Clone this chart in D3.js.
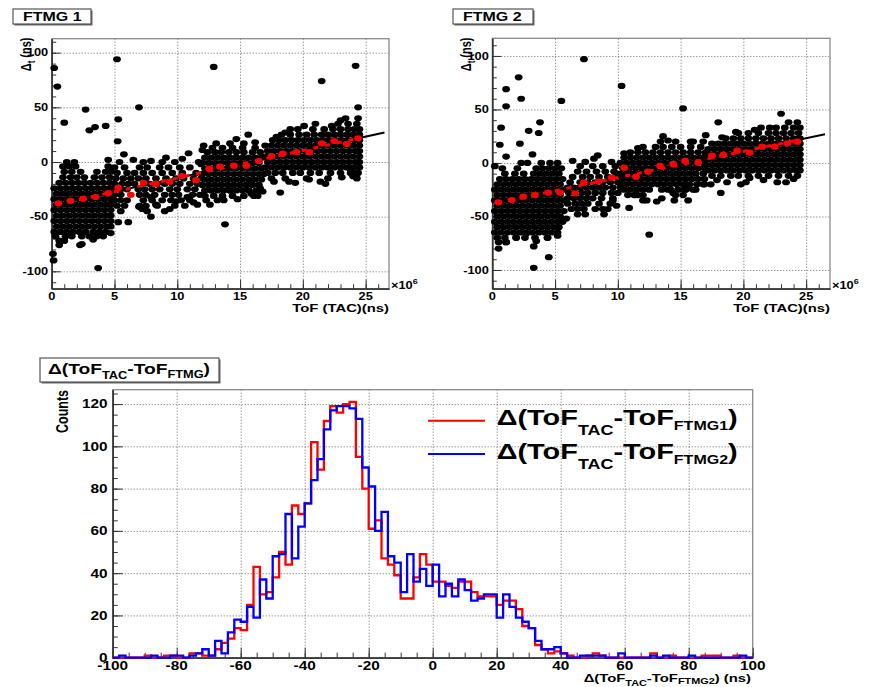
<!DOCTYPE html>
<html><head><meta charset="utf-8">
<script src="https://cdn.jsdelivr.net/npm/d3@7"></script>
<style>
html,body{margin:0;padding:0;background:#fff;}
svg{display:block;font-family:"Liberation Sans",Arial,Helvetica,sans-serif;font-weight:bold;}
</style></head><body>
<svg id="c" width="872" height="687"></svg>
<script>
// ---------------- data ----------------
// Scatter of time difference vs ToF(TAC), one row per Δt level: "Δt|ToF ToF ..."
const ftmg1Rows = `
-72|0.6 1.0
-68|0.3 1.1 1.6 2.4 3.0 3.6 4.1
-64|0.2 0.7 1.2 1.7 2.2 2.7 3.3 3.8 4.3
-59|0.4 0.9 1.4 1.9 2.4 2.9 3.4 3.9 4.4 4.7
-54|0.2 0.7 1.2 1.7 2.2 2.7 3.2 3.7 4.2 4.7
-49|0.4 0.9 1.4 1.9 2.4 2.9 3.4 3.9 4.4 4.7
-44|0.2 0.7 1.2 1.7 2.2 2.7 3.2 3.7 4.2 4.7
-39|0.4 0.9 1.4 1.9 2.4 2.9 3.4 3.9 4.4 4.7
-34|0.2 0.7 1.2 1.7 2.2 2.7 3.2 3.7 4.2 4.7
-29|0.4 0.9 1.4 1.9 2.4 2.9 3.4 3.9 4.4 4.7
-24|0.2 0.7 1.2 1.7 2.2 2.7 3.2 3.7 4.2 4.7
-19|0.6 1.1 1.6 2.1 2.6 3.1 3.6 4.1 4.6
-14|0.9 1.5 2.0 2.6 3.4 4.0 4.6
-9|1.0 1.6 2.3 3.6 4.3 4.7
-4|0.9 1.4 1.9 4.5
0|1.2 1.8
-45|5.5 7.6 9.0
-40|5.2 5.8 7.0 7.5 8.4 9.8 10.6
-35|5.0 5.5 6.0 7.3 8.0 8.8 9.5 10.3 11.0
-30|5.0 5.5 7.0 7.5 8.2 9.0 9.6 10.1 11.2 11.8
-25|5.0 5.5 6.0 6.9 7.4 8.0 8.6 9.4 10.0 10.8 11.4
-20|5.0 5.6 6.1 6.6 7.8 8.4 9.0 9.6 10.2 11.0 11.6
-15|5.1 5.7 6.3 6.9 7.5 8.3 9.1 9.9 10.5 11.3 11.9
-10|5.2 6.0 6.6 7.3 8.0 8.8 9.6 10.4 11.5
-5|5.0 5.8 7.0 7.6 8.6 9.3 10.2 11.0
0|5.4 7.3 8.8 9.8 11.7
-35|12.3 13.2
-31|12.2 12.9 13.6 14.4 15.3 16.1
-26|12.2 12.7 13.2 13.7 14.2 14.7 15.2 15.7 16.3
-21|12.0 12.5 13.0 13.5 14.0 14.5 15.0 15.5 16.0 16.5
-16|12.2 12.7 13.2 13.7 14.2 14.7 15.2 15.7 16.2 16.7
-11|12.0 12.5 13.0 13.5 14.0 14.5 15.0 15.5 16.0 16.5 16.9
-6|12.2 12.7 13.2 13.7 14.2 14.7 15.2 15.7 16.2 16.7
-1|12.0 12.5 13.0 13.5 14.0 14.5 15.0 15.5 16.0 16.5
4|12.2 12.7 13.2 13.7 14.2 14.7 15.2 15.7 16.2 16.7
9|12.4 13.0 13.5 14.1 14.7 15.3 16.0 16.6
13|12.8 13.6 14.4 15.2 16.2
17|14.2 15.3
-15|17.5 18.6 20.3 22.0 24.3
-10|17.2 17.8 18.4 19.2 19.8 20.6 21.3 22.2 23.0 23.8 24.4
-5|17.0 17.5 18.0 18.5 19.0 19.5 20.0 20.5 21.0 21.5 22.0 22.5 23.0 23.5 24.0 24.5
0|17.2 17.7 18.2 18.7 19.2 19.7 20.2 20.7 21.2 21.7 22.2 22.7 23.2 23.7 24.2 24.5
5|17.0 17.5 18.0 18.5 19.0 19.5 20.0 20.5 21.0 21.5 22.0 22.5 23.0 23.5 24.0 24.5
10|17.2 17.7 18.2 18.7 19.2 19.7 20.2 20.7 21.2 21.7 22.2 22.7 23.2 23.7 24.2 24.5
15|17.0 17.5 18.0 18.5 19.0 19.5 20.0 20.5 21.0 21.5 22.0 22.5 23.0 23.5 24.0 24.5
20|17.6 18.1 18.6 19.1 19.6 20.1 20.6 21.1 21.6 22.1 22.6 23.1 23.6 24.1 24.5
25|18.3 19.0 19.7 20.3 20.9 21.5 22.0 22.5 23.0 23.5 24.0 24.5
30|19.6 20.8 21.7 22.4 23.0 23.6 24.1 24.5
35|21.0 22.8 23.6 24.3
40|23.4 24.4
`;
const ftmg1Outliers = [[0.2,86],[0.45,69],[5.2,94],[12.9,87],[24.2,88],[21.5,74],[2.7,48],[6.95,50],[24.4,50],
  [1.0,36],[3.0,29],[3.45,32],[4.3,33],[5.3,39],[5.25,19],[5.75,7],[23,38],[22.3,33],[15.65,25],[14.7,21],
  [12.1,15],[10.9,8],[7.9,1],[4.5,2],[0.1,-84],[0.15,-90],[3.7,-97],[2.4,-75],[2.25,-76],[1.0,-72],[7.9,-50],
  [6.1,-55],[5.3,-55],[13.8,-57],[9.4,-43],[18.2,-28],[17.7,-18],[19.4,-19],[21.4,-18],[21.8,-20],[14.8,-34],
  [11.6,-39],[11.3,-37],[10.8,-32],[7.2,-43],[6.95,-41],[7.9,-32],[13.7,-35],[14.2,-26],[15.8,-20],[16.6,-24],
  [24.3,-10],[23.8,-7],[19.0,30],[20.1,33],[18.6,27],[17.9,23],[16.2,18],[13.1,17],[12.6,-39],[15.9,-29],
  [16.4,-31],[18.9,-18],[20.5,-16],[23.1,-14],[24.0,-13],[9.1,4],[10.4,3],[6.5,2],[8.3,-39],[9.9,-36],
  [4.7,-65],[0.6,-76],[3.3,-71],[11.9,-2],[12.0,11],[16.8,-27]];
const ftmg1Profile = [[0.53,-37.8],[1.5,-35.5],[2.5,-33.5],[3.5,-32],[4.5,-28.5],[5.3,-23.5],[6.3,-30],[7.3,-19],
  [8.3,-19.8],[9.4,-18],[10.35,-12.8],[11.5,-16.5],[12.55,-6.1],[13.4,-4.3],[14.5,-3.4],[15.5,-3.4],[16.5,0.9],
  [17.5,5.5],[18.4,7.6],[19.5,9.1],[20.5,9],[21.5,17.1],[22.5,19.2],[23.5,16.5],[24.4,21.7]];
const ftmg1Fit = [[0.3,-39],[26.5,27]];

const ftmg2Rows = `
-74|1.1
-70|0.4 1.0 1.9 2.6 3.4 4.4
-65|0.2 0.7 1.2 1.7 2.2 2.7 3.2 3.7 4.2 4.7 5.2
-60|0.4 0.9 1.4 1.9 2.4 2.9 3.4 3.9 4.4 4.9 5.3
-55|0.2 0.7 1.2 1.7 2.2 2.7 3.2 3.7 4.2 4.7 5.2 5.6
-50|0.4 0.9 1.4 1.9 2.4 2.9 3.4 3.9 4.4 4.9 5.4
-45|0.2 0.7 1.2 1.7 2.2 2.7 3.2 3.7 4.2 4.7 5.2 5.7
-40|0.4 0.9 1.4 1.9 2.4 2.9 3.4 3.9 4.4 4.9 5.4
-35|0.2 0.7 1.2 1.7 2.2 2.7 3.2 3.7 4.2 4.7 5.2 5.7
-30|0.4 0.9 1.4 1.9 2.4 2.9 3.4 3.9 4.4 4.9 5.4
-25|0.2 0.7 1.2 1.7 2.2 2.7 3.2 3.7 4.2 4.7 5.2 5.7
-20|0.4 0.9 1.4 1.9 2.4 2.9 3.4 3.9 4.4 4.9 5.4
-15|0.6 1.1 1.6 2.1 2.6 3.1 3.6 4.1 4.6 5.1 5.6
-10|1.0 1.8 2.5 3.3 3.8 4.3 4.8 5.3
-5|0.8 2.0 3.5 4.0 4.5 5.0 5.5
0|2.3 2.8 3.9 4.6 5.2
-48|6.8 7.4 8.9
-43|6.3 6.8 7.3 8.2
-38|6.0 6.6 7.1 7.6 8.5 9.4
-33|6.0 6.5 7.0 7.5 8.0 8.7 9.6
-28|6.1 6.6 7.1 7.6 8.2 8.8 9.5 10.0
-23|6.0 6.5 7.0 7.5 8.0 8.5 9.0 9.6 10.2
-18|6.2 7.0 7.6 8.2 8.8 9.4 10.0
-13|6.4 7.2 7.8 8.5 9.2 9.8 10.4
-8|6.8 7.5 8.3 9.0 9.7
-3|7.0 8.0 8.8 9.8
1|7.4 9.5
-35|12.0 14.5 15.6
-30|10.8 11.4 12.0 14.6 15.2
-25|10.5 11.0 11.5 12.0 12.5 13.5 14.2 14.8 15.4 16.0
-20|10.2 10.7 11.2 11.7 12.2 12.7 13.2 13.7 14.2 14.7 15.2 15.7 16.3 16.8
-15|10.4 10.9 11.4 11.9 12.4 12.9 13.4 13.9 14.4 14.9 15.4 15.9 16.4 16.9
-10|10.2 10.7 11.2 11.7 12.2 12.7 13.2 13.7 14.2 14.7 15.2 15.7 16.2 16.8
-5|10.4 10.9 11.4 11.9 12.4 12.9 13.4 13.9 14.4 14.9 15.4 15.9 16.4 16.9
0|10.2 10.7 11.2 11.7 12.2 12.7 13.2 13.7 14.2 14.7 15.2 15.7 16.2 16.8
5|10.5 11.0 11.5 12.0 12.5 13.0 13.5 14.0 14.5 15.0 15.5 16.0 16.5 17.0
10|11.0 11.6 12.2 12.8 13.4 14.0 14.6 15.2 15.8 16.4 17.0
15|12.0 13.0 13.6 14.3 15.0 15.8 16.6
20|13.4 14.6 15.8 16.8
-18|18.7 20.2
-12|17.5 18.2 19.0 19.6 20.4 21.2 22.0 22.8 23.6 24.3
-7|17.2 17.7 18.2 18.7 19.2 19.7 20.2 20.7 21.2 21.7 22.2 22.7 23.2 23.7 24.2 24.5
-2|17.0 17.5 18.0 18.5 19.0 19.5 20.0 20.5 21.0 21.5 22.0 22.5 23.0 23.5 24.0 24.5
3|17.2 17.7 18.2 18.7 19.2 19.7 20.2 20.7 21.2 21.7 22.2 22.7 23.2 23.7 24.2 24.5
8|17.0 17.5 18.0 18.5 19.0 19.5 20.0 20.5 21.0 21.5 22.0 22.5 23.0 23.5 24.0 24.5
13|17.2 17.7 18.2 18.7 19.2 19.7 20.2 20.7 21.2 21.7 22.2 22.7 23.2 23.7 24.2 24.5
18|17.5 18.0 18.5 19.0 19.5 20.0 20.5 21.0 21.5 22.0 22.5 23.0 23.5 24.0 24.5
23|18.6 19.2 19.8 20.4 21.0 21.6 22.2 22.8 23.4 24.0 24.5
28|19.6 20.4 21.2 22.0 22.6 23.2 23.8 24.4
33|21.4 22.6 23.3 24.0 24.5
38|23.6 24.3
`;
const ftmg2Outliers = [[7.3,97],[10.3,72],[15.2,51],[2.1,80],[1.1,69],[2.3,60],[1.1,53],[5.5,58],[0.7,33],
  [2.9,30],[3.8,38],[3.7,28],[2.2,18],[3.2,8],[0.6,17],[1.1,6],[0.2,-3],[8.4,7],[13.6,25],[17,26],[18,38],
  [23,46],[22.7,-18],[23.4,-18],[20.5,-14],[18.2,-28],[17.4,-20],[16.2,-25],[10.9,-42],[12.5,-67],[9.2,-43],
  [8.8,-43],[0.5,-80],[1.1,-74],[3.3,-78],[3.5,-73],[4.5,-88],[3.3,-98],[1.9,-70],[4.4,-70],[2.7,-66],
  [9.6,-35],[11.3,-30],[11.6,-30],[13.5,-33],[14.4,-28],[15.3,-25],[15.5,-24],[14,-25],[13.1,-36],[12.3,-35],
  [19.4,29],[20.9,31],[22.1,33],[18.3,24],[16.0,20],[14.0,21],[11.6,14],[10.5,9],[6.4,2],[8.1,4],[9.9,-40],
  [5.9,-52],[5.2,-68],[17.9,-16],[21.6,-16],[24.0,-15],[19.8,-20],[16.9,-20],[0.5,-74]];
const ftmg2Profile = [[0.48,-36.7],[1.55,-34.6],[2.47,-31.5],[3.4,-29.9],[4.46,-27.7],[5.4,-27.7],[6.6,-28.3],
  [7.3,-18.4],[8.45,-17.4],[9.5,-13.7],[10.5,-4.4],[11.45,-12.8],[12.4,-8.1],[13.36,-2.8],[14.4,-0.9],
  [15.35,1.9],[16.4,0.3],[17.5,6.8],[18.4,7.5],[19.5,11.5],[20.5,9.6],[21.5,15.2],[22.5,15.2],[23.5,18.4],
  [24.3,19.9]];
const ftmg2Fit = [[0.3,-37.5],[26.5,26.8]];

const scatterXTicks = [0, 5, 10, 15, 20, 25];
const scatterYTicks = [-100, -50, 0, 50, 100];

// Histogram of Δ(ToF_TAC - ToF_FTMG), 2 ns bins from -100 to 100
const binStart = -100, binWidth = 2;
const countsFTMG1 = [
  0,0,0,0,0,1,0,0,1,1,
  0,0,2,2,1,1,4,7,9,14,
  13,25,43,30,31,38,50,44,72,68,
  73,102,89,112,119,116,120,121,95,80,
  61,65,47,44,39,28,28,38,49,44,
  36,36,34,33,36,36,31,29,29,29,
  25,27,27,23,15,14,6,4,2,3,
  2,1,0,0,1,2,1,0,0,0,
  0,0,0,0,2,0,0,1,0,0,
  0,0,1,1,1,0,0,1,0,0];
const countsFTMG2 = [
  0,1,0,0,0,0,1,0,0,1,
  1,0,1,2,4,1,8,2,12,18,
  17,24,19,37,28,48,49,68,47,62,
  73,84,94,108,117,119,119,118,113,90,
  81,60,69,48,45,31,49,36,42,34,
  44,29,35,29,37,32,27,28,30,30,
  19,30,24,19,17,14,8,4,4,5,
  2,0,0,1,1,1,1,0,0,2,
  0,0,0,0,1,0,1,0,0,0,
  1,0,0,0,0,0,0,0,1,0];
const histXTicks = [-100, -80, -60, -40, -20, 0, 20, 40, 60, 80, 100];
const histYTicks = [0, 20, 40, 60, 80, 100, 120];

// ---------------- drawing ----------------
const SX = 1.28;          // horizontal glyph stretch of the ROOT canvas
const AXIS = "#333", FRAME = "#8a8a8a", GRID = "#6a6a6a";
const svg = d3.select("#c");

function parseRows(str) {
  const pts = [];
  str.trim().split("\n").forEach(line => {
    const [yv, xs] = line.split("|");
    xs.trim().split(/\s+/).forEach(xv => pts.push([+xv, +yv]));
  });
  return pts;
}

// text made of parts [{t, s, dy}], stretched horizontally
function stext(parent, x, y, anchor, parts, rotate) {
  const g = parent.append("g").attr("transform", rotate
    ? `translate(${x},${y}) rotate(-90) scale(1,${SX})`
    : `translate(${x},${y}) scale(${SX},1)`);
  const t = g.append("text").attr("text-anchor", anchor).attr("fill", "#000");
  parts.forEach(p => t.append("tspan").attr("font-size", p.s).attr("dy", p.dy || 0).text(p.t));
  return g;
}

function titleBox(x, y, w, h) {
  svg.append("rect").attr("x", x + 1.5).attr("y", y + 1.5).attr("width", w).attr("height", h).attr("fill", "#666");
  svg.append("rect").attr("x", x).attr("y", y).attr("width", w).attr("height", h)
    .attr("fill", "#fff").attr("stroke", "#555").attr("stroke-width", 1.2);
}

function gridAndTicks(g, x, y, o) {
  const [xl, xr] = x.range(), [yb, yt] = y.range();
  // dotted grid
  g.append("g").attr("transform", `translate(0,${yb})`)
    .call(d3.axisBottom(x).tickValues(o.gridX).tickSize(-(yb - yt)).tickFormat("").tickSizeOuter(0))
    .call(s => s.select(".domain").remove())
    .selectAll("line").attr("stroke", GRID).attr("stroke-dasharray", "1,2");
  g.append("g").attr("transform", `translate(${xl},0)`)
    .call(d3.axisLeft(y).tickValues(o.gridY).tickSize(-(xr - xl)).tickFormat("").tickSizeOuter(0))
    .call(s => s.select(".domain").remove())
    .selectAll("line").attr("stroke", GRID).attr("stroke-dasharray", "1,2");
  // frame
  g.append("rect").attr("x", xl).attr("y", yt).attr("width", xr - xl).attr("height", yb - yt)
    .attr("fill", "none").attr("stroke", FRAME).attr("stroke-width", 1.3);
  // ticks (inside)
  const axes = [
    [d3.axisBottom(x).tickValues(o.minorX).tickSize(-o.minorLen), `translate(0,${yb})`],
    [d3.axisBottom(x).tickValues(o.majorX).tickSize(-o.majorLen), `translate(0,${yb})`],
    [d3.axisLeft(y).tickValues(o.minorY).tickSize(-o.minorLen), `translate(${xl},0)`],
    [d3.axisLeft(y).tickValues(o.majorY).tickSize(-o.majorLen), `translate(${xl},0)`]
  ];
  axes.forEach(([ax, tr]) => {
    g.append("g").attr("transform", tr).call(ax.tickFormat("").tickSizeOuter(0))
      .call(s => s.select(".domain").attr("stroke", AXIS).attr("stroke-width", 1.3))
      .selectAll("line").attr("stroke", AXIS);
  });
}

function drawScatter(cfg) {
  const {x, y} = cfg;
  const [xl, xr] = x.range(), [yb, yt] = y.range();
  const g = svg.append("g");
  const minorX = d3.range(0, 27, 1), minorY = d3.range(-110, 111, 10);
  gridAndTicks(g, x, y, {
    gridX: scatterXTicks.filter(v => v > 0), gridY: scatterYTicks,
    minorX, majorX: scatterXTicks, minorY, majorY: scatterYTicks, minorLen: 4.5, majorLen: 9
  });
  const pts = parseRows(cfg.rows).concat(cfg.outliers);
  g.append("g").selectAll("ellipse").data(pts).join("ellipse")
    .attr("cx", d => x(d[0])).attr("cy", d => y(d[1])).attr("rx", 3.9).attr("ry", 3.1).attr("fill", "#000");
  // linear fit
  const line = d3.line().x(d => x(d[0])).y(d => y(d[1]));
  g.append("path").attr("d", line(cfg.fit)).attr("stroke", "#000").attr("stroke-width", 2).attr("fill", "none");
  const f = cfg.fit, last = cfg.profile[cfg.profile.length - 1][0];
  const fy = v => f[0][1] + (f[1][1] - f[0][1]) * (v - f[0][0]) / (f[1][0] - f[0][0]);
  g.append("path").attr("d", line([[f[0][0], fy(f[0][0])], [last, fy(last)]]))
    .attr("stroke", "#ff0000").attr("stroke-width", 3).attr("stroke-dasharray", "5,7").attr("fill", "none");
  // profile means
  g.append("g").selectAll("ellipse").data(cfg.profile).join("ellipse")
    .attr("cx", d => x(d[0])).attr("cy", d => y(d[1])).attr("rx", 3.9).attr("ry", 3.1).attr("fill", "#ff0000");
  // labels
  scatterXTicks.forEach(v => stext(svg, x(v), 299.5, "middle", [{t: v, s: 10}]));
  scatterYTicks.forEach(v => stext(svg, xl - 3.5, y(v) + 3.6, "end", [{t: v, s: 10}]));
  stext(svg, xr, 311.5, "end", [{t: "ToF (TAC)(ns)", s: 11.6}]);
  stext(svg, xr + 2, 289, "start", [{t: "×10", s: 10}, {t: "6", s: 7, dy: -5}]);
  stext(svg, cfg.yTitleX, 37.5, "end", [{t: "Δ", s: 11}, {t: "t", s: 8, dy: 3}, {t: " (ns)", s: 11, dy: -3}], true);
  titleBox(cfg.box[0], cfg.box[1], cfg.box[2], cfg.box[3]);
  stext(svg, cfg.box[0] + 10, cfg.box[1] + 11.5, "start", [{t: cfg.title, s: 12.5}]);
}

drawScatter({
  x: d3.scaleLinear([0, 26.86], [51.7, 389]),
  y: d3.scaleLinear([-115.9, 112.8], [288.7, 38.7]),
  rows: ftmg1Rows, outliers: ftmg1Outliers, profile: ftmg1Profile, fit: ftmg1Fit,
  title: "FTMG 1", box: [13, 9, 78, 15], yTitleX: 31
});
drawScatter({
  x: d3.scaleLinear([0, 26.9], [492.3, 830]),
  y: d3.scaleLinear([-117.5, 116.5], [288.7, 38.3]),
  rows: ftmg2Rows, outliers: ftmg2Outliers, profile: ftmg2Profile, fit: ftmg2Fit,
  title: "FTMG 2", box: [453, 9, 80, 15], yTitleX: 471
});

// ---------------- histogram ----------------
(function () {
  const hx = d3.scaleLinear([-100, 100], [112.7, 752.7]);
  const hy = d3.scaleLinear([0, 126.8], [657.7, 389.7]);
  const g = svg.append("g");
  gridAndTicks(g, hx, hy, {
    gridX: histXTicks.filter(v => v > -100 && v < 100), gridY: histYTicks.filter(v => v > 0),
    minorX: d3.range(-100, 101, 5), majorX: histXTicks,
    minorY: d3.range(0, 126, 5), majorY: histYTicks, minorLen: 5, majorLen: 10
  });
  const line = d3.line().x(d => hx(d[0])).y(d => hy(d[1]));
  function stepPts(counts) {
    const p = [[binStart, 0]];
    counts.forEach((c, i) => {
      const lo = binStart + i * binWidth;
      p.push([lo, c], [lo + binWidth, c]);
    });
    p.push([binStart + counts.length * binWidth, 0]);
    return p;
  }
  [[countsFTMG1, "#ff0000"], [countsFTMG2, "#0000ff"]].forEach(([c, col]) => {
    g.append("path").attr("d", line(stepPts(c))).attr("fill", "none")
      .attr("stroke", col).attr("stroke-width", 2.3).attr("stroke-linejoin", "miter");
  });
  // tick labels
  histXTicks.forEach(v => stext(svg, hx(v), 669.5, "middle", [{t: v, s: 12}]));
  histYTicks.forEach(v => stext(svg, 107.5, hy(v) + 4.4, "end", [{t: v, s: 12}]));
  stext(svg, 751, 681.5, "end", [
    {t: "Δ(ToF", s: 11.6}, {t: "TAC", s: 8.5, dy: 4}, {t: "-ToF", s: 11.6, dy: -4},
    {t: "FTMG2", s: 8.5, dy: 2.5}, {t: ") (ns)", s: 11.6, dy: -2.5}]);
  stext(svg, 67.5, 390, "end", [{t: "Counts", s: 12.5}], true);
  // legend
  const leg = [["#ff0000", "FTMG1", 420.7, 425], ["#0000ff", "FTMG2", 454, 458.5]];
  leg.forEach(([col, name, ly, by]) => {
    svg.append("line").attr("x1", 428).attr("x2", 485).attr("y1", ly).attr("y2", ly)
      .attr("stroke", col).attr("stroke-width", 2);
    stext(svg, 496.7, by, "start", [
      {t: "Δ(ToF", s: 22.6}, {t: "TAC", s: 14, dy: 10}, {t: "-ToF", s: 22.6, dy: -10},
      {t: name, s: 12.5, dy: 5}, {t: ")", s: 22.6, dy: -5}]);
  });
  // title
  titleBox(40, 358, 179, 24);
  stext(svg, 48, 373.5, "start", [
    {t: "Δ(ToF", s: 15}, {t: "TAC", s: 10, dy: 5}, {t: "-ToF", s: 15, dy: -5},
    {t: "FTMG", s: 10, dy: 4}, {t: ")", s: 15, dy: -4}]);
})();
</script>
</body></html>
